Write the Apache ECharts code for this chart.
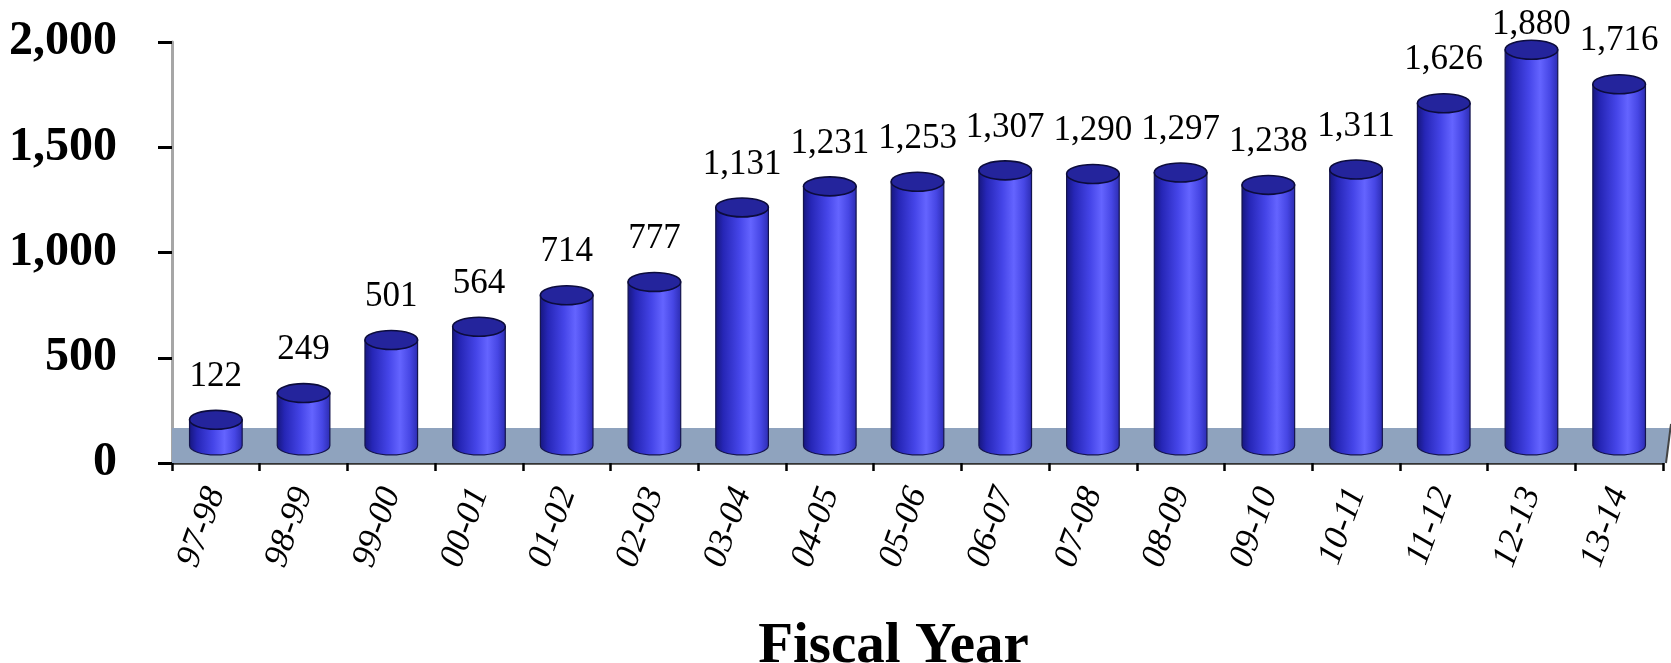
<!DOCTYPE html>
<html>
<head>
<meta charset="utf-8">
<script src="https://cdn.jsdelivr.net/npm/echarts@6/dist/echarts.min.js"></script>
<style>
  html, body { margin: 0; padding: 0; background: #fff; }
  #chart { width: 1671px; height: 663px; }
</style>
</head>
<body>
<div id="chart"></div>
<script>
// Fiscal years shown along the bottom axis
const categories = ['97-98', '98-99', '99-00', '00-01', '01-02', '02-03', '03-04', '04-05',
  '05-06', '06-07', '07-08', '08-09', '09-10', '10-11', '11-12', '12-13', '13-14'];
// Yearly totals
const values = [122, 249, 501, 564, 714, 777, 1131, 1231, 1253, 1307, 1290, 1297, 1238, 1311, 1626, 1880, 1716];
// Value axis ticks
const yTicks = [0, 500, 1000, 1500, 2000];

const SERIF = '"Liberation Serif", "Times New Roman", serif';
const FLOOR_DEPTH = 35;      // apparent depth of the 3D floor, px
const BAR_RATIO = 0.6;       // cylinder diameter relative to category width
const LABEL_GAP = 16;        // space between cylinder top and its value label

const fmt = v => v.toLocaleString('en-US');

// The 3D floor slab running under all cylinders
function renderFloor(params, api) {
  const cs = params.coordSys;
  const x0 = cs.x, x1 = cs.x + cs.width, yb = cs.y + cs.height;
  return {
    type: 'polygon',
    shape: { points: [[x0, yb], [x1 + 3, yb], [x1 + 8, yb - FLOOR_DEPTH], [x0, yb - FLOOR_DEPTH]] },
    style: { fill: '#8fa3be', stroke: null }
  };
}

function renderFloorEdge(params, api) {
  const cs = params.coordSys;
  const x1 = cs.x + cs.width, yb = cs.y + cs.height;
  return {
    type: 'line',
    shape: { x1: x1 + 3, y1: yb, x2: x1 + 8, y2: yb - FLOOR_DEPTH - 4 },
    style: { stroke: '#444', lineWidth: 2 }
  };
}

// One shaded cylinder per year, with its value written above it
function renderCylinder(params, api) {
  const i = api.value(0);
  const v = api.value(1);
  const top = api.coord([i, v]);
  const base = api.coord([i, 0]);
  const w = api.size([1, 0])[0] * BAR_RATIO;
  const rx = w / 2, ry = w * 0.18;
  const lift = FLOOR_DEPTH / 2;
  const cx = top[0];
  const yT = top[1] - lift;
  const yB = base[1] - lift;
  // value labels sit above the cap but never rise past the plot area's top edge
  const labelY = Math.max(yT - ry - LABEL_GAP, params.coordSys.y);

  const body = 'M' + (cx - rx) + ',' + yT +
    ' L' + (cx - rx) + ',' + yB +
    ' A' + rx + ',' + ry + ' 0 0 0 ' + (cx + rx) + ',' + yB +
    ' L' + (cx + rx) + ',' + yT + ' Z';
  const cap = 'M' + (cx - rx) + ',' + yT +
    ' A' + rx + ',' + ry + ' 0 1 0 ' + (cx + rx) + ',' + yT +
    ' A' + rx + ',' + ry + ' 0 1 0 ' + (cx - rx) + ',' + yT + ' Z';

  return {
    type: 'group',
    children: [
      {
        type: 'path',
        shape: { pathData: body },
        style: {
          fill: {
            type: 'linear', x: 0, y: 0, x2: 1, y2: 0,
            colorStops: [
              { offset: 0, color: '#16167c' },
              { offset: 0.15, color: '#2626b6' },
              { offset: 0.45, color: '#4545e8' },
              { offset: 0.66, color: '#6464ff' },
              { offset: 0.85, color: '#4646e4' },
              { offset: 1, color: '#2b2bb0' }
            ]
          },
          stroke: '#14144e',
          lineWidth: 1.2
        }
      },
      {
        type: 'path',
        shape: { pathData: cap },
        style: { fill: '#24249c', stroke: '#0c0c3c', lineWidth: 1.6 }
      },
      {
        type: 'text',
        style: {
          text: fmt(v),
          x: cx,
          y: labelY,
          align: 'center',
          verticalAlign: 'bottom',
          font: '35px ' + SERIF,
          fill: '#000'
        }
      }
    ]
  };
}

const chart = echarts.init(document.getElementById('chart'), null, { renderer: 'canvas' });
chart.setOption({
  backgroundColor: '#ffffff',
  animation: false,
  grid: { left: 172, right: 8, top: 42, bottom: 200, containLabel: false, outerBoundsMode: 'none' },
  xAxis: {
    type: 'category',
    data: categories,
    boundaryGap: true,
    axisLine: { show: true, lineStyle: { color: '#333', width: 2.5 } },
    axisTick: { show: true, alignWithLabel: false, length: 8, lineStyle: { color: '#000', width: 2.5 } },
    axisLabel: {
      interval: 0, rotate: 70, margin: 26,
      fontFamily: SERIF, fontStyle: 'italic', fontSize: 35, color: '#000'
    },
    name: 'Fiscal Year',
    nameLocation: 'middle',
    nameGap: 156,
    nameTextStyle: {
      fontFamily: SERIF, fontWeight: 'bold', fontSize: 57, color: '#000',
      padding: [0, 48, 0, 0]
    }
  },
  yAxis: {
    type: 'value',
    min: yTicks[0],
    max: yTicks[yTicks.length - 1],
    interval: yTicks[1] - yTicks[0],
    axisLine: { show: true, lineStyle: { color: '#a6a6a6', width: 3 } },
    axisTick: { show: true, length: 14, lineStyle: { color: '#000', width: 3 } },
    splitLine: { show: false },
    axisLabel: {
      margin: 55,
      formatter: fmt,
      fontFamily: SERIF, fontWeight: 'bold', fontSize: 48, color: '#000'
    }
  },
  series: [
    {
      type: 'custom',
      renderItem: renderFloor,
      data: [[0, 0]],
      silent: true,
      z: 1
    },
    {
      type: 'custom',
      renderItem: renderCylinder,
      data: values.map((v, i) => [i, v]),
      encode: { x: 0, y: 1 },
      z: 3
    },
    {
      type: 'custom',
      renderItem: renderFloorEdge,
      data: [[0, 0]],
      silent: true,
      z: 2
    }
  ]
});
</script>
</body>
</html>
